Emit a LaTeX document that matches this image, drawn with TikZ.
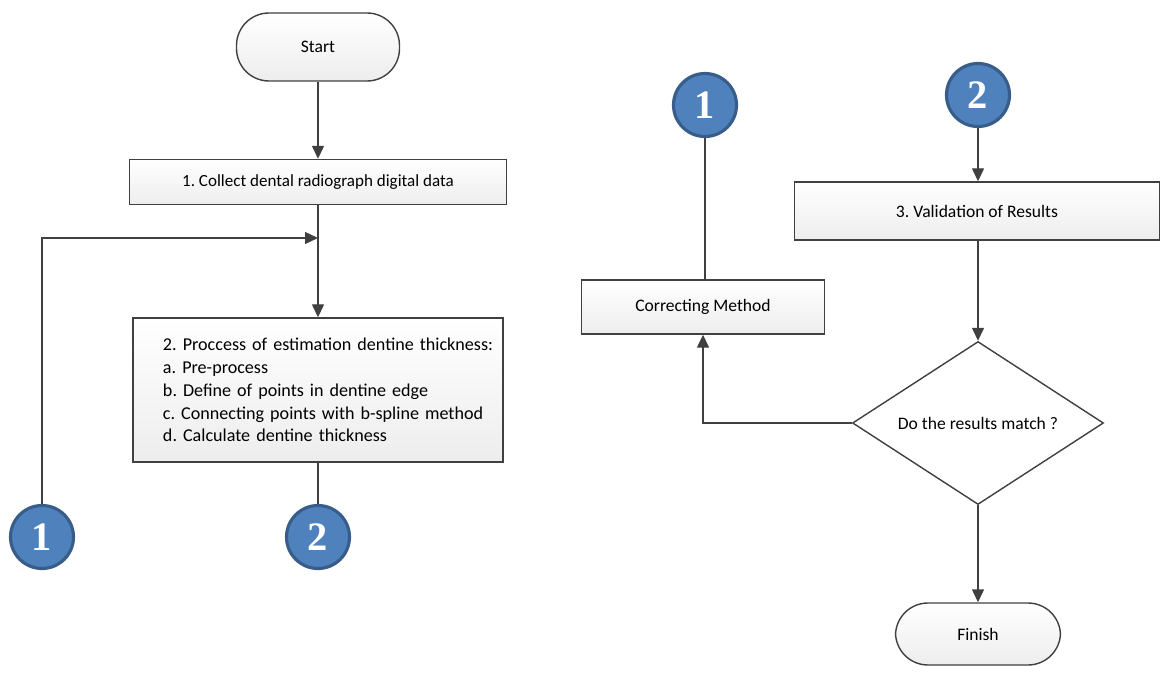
\documentclass[tikz,border=0pt]{standalone}
\usepackage{fontspec}
\setmainfont{Carlito}
\newfontfamily\numfont{Liberation Serif}
\frenchspacing
\usetikzlibrary{shapes.geometric, arrows.meta, positioning, calc}
\definecolor{connblue}{HTML}{4F81BD}
\definecolor{connedge}{HTML}{385D8A}
\definecolor{lineclr}{HTML}{404040}

\begin{document}
\begin{tikzpicture}[x=0.2mm, y=-0.2mm,
  terminal/.style={rectangle, draw=lineclr, line width=0.8pt, top color=white, bottom color=gray!14, rounded corners=6.5mm, minimum width=32.6mm, minimum height=13.6mm, font=\normalsize},
  process/.style={rectangle, draw=lineclr, line width=0.8pt, top color=white, bottom color=gray!14, align=center, font=\normalsize},
  decision/.style={diamond, draw=lineclr, line width=0.8pt, fill=white, aspect=1.54, minimum width=50.2mm, minimum height=32.6mm, inner sep=0pt, font=\normalsize},
  connector/.style={circle, draw=connedge, line width=1.8pt, fill=connblue, text=white, minimum size=12.6mm, inner sep=0pt, font=\numfont\bfseries\fontsize{23}{23}\selectfont},
  line/.style={draw=lineclr, line width=0.8pt},
  arrow/.style={line, -{Triangle[length=2.6mm, width=2.4mm]}}
]
  \useasboundingbox (0,0) rectangle (1160,675);

  % left column
  \node[terminal] (start) at (318,47) {Start};
  \node[process, minimum width=75.4mm, minimum height=9mm, font=\fontsize{9.7}{12}\selectfont] (collect) at (318,182) {1. Collect dental radiograph digital data};
  \coordinate (merge) at (318,238);
  \node[process, align=left, text width=73mm, inner xsep=0.5mm, minimum width=74mm, minimum height=28.8mm, font=\fontsize{10.3}{13}\selectfont] (estimate) at (318,390)
    {\hspace*{5.5mm}2. Proccess of estimation dentine thickness:\\
     \hspace*{5.5mm}a. Pre-process\\
     \hspace*{5.5mm}b. Define of points in dentine edge\\
     \hspace*{5.5mm}c. Connecting points with b-spline method\\
     \hspace*{5.5mm}d. Calculate dentine thickness};
  \node[connector] (oneL) at (42,537) {1};
  \node[connector] (twoL) at (318,537) {2};

  % right column
  \node[connector] (oneR) at (705,105) {1};
  \node[connector] (twoR) at (978,95) {2};
  \node[process, minimum width=48.6mm, minimum height=10.8mm] (correct) at (703,307) {Correcting Method};
  \node[process, minimum width=73mm, minimum height=11.6mm] (validate) at (977,211) {3. Validation of Results};
  \node[decision] (match) at (978,423) {Do the results match ?};
  \node[terminal, minimum width=33mm, minimum height=12.4mm] (finish) at (978,634) {Finish};

  \draw[arrow] (start) -- (collect);
  \draw[arrow] (collect) -- (estimate);
  \draw[arrow] (oneL.north) |- (merge);
  \draw[line] (estimate) -- (twoL);
  \draw[line] (oneR.south) -- (oneR.south |- correct.north);
  \draw[arrow] (twoR.south) -- (twoR.south |- validate.north);
  \draw[arrow] (validate.south -| match.north) -- (match.north);
  \draw[arrow] (match.west) -| (correct.south);
  \draw[arrow] (match) -- (finish);
\end{tikzpicture}
\end{document}
